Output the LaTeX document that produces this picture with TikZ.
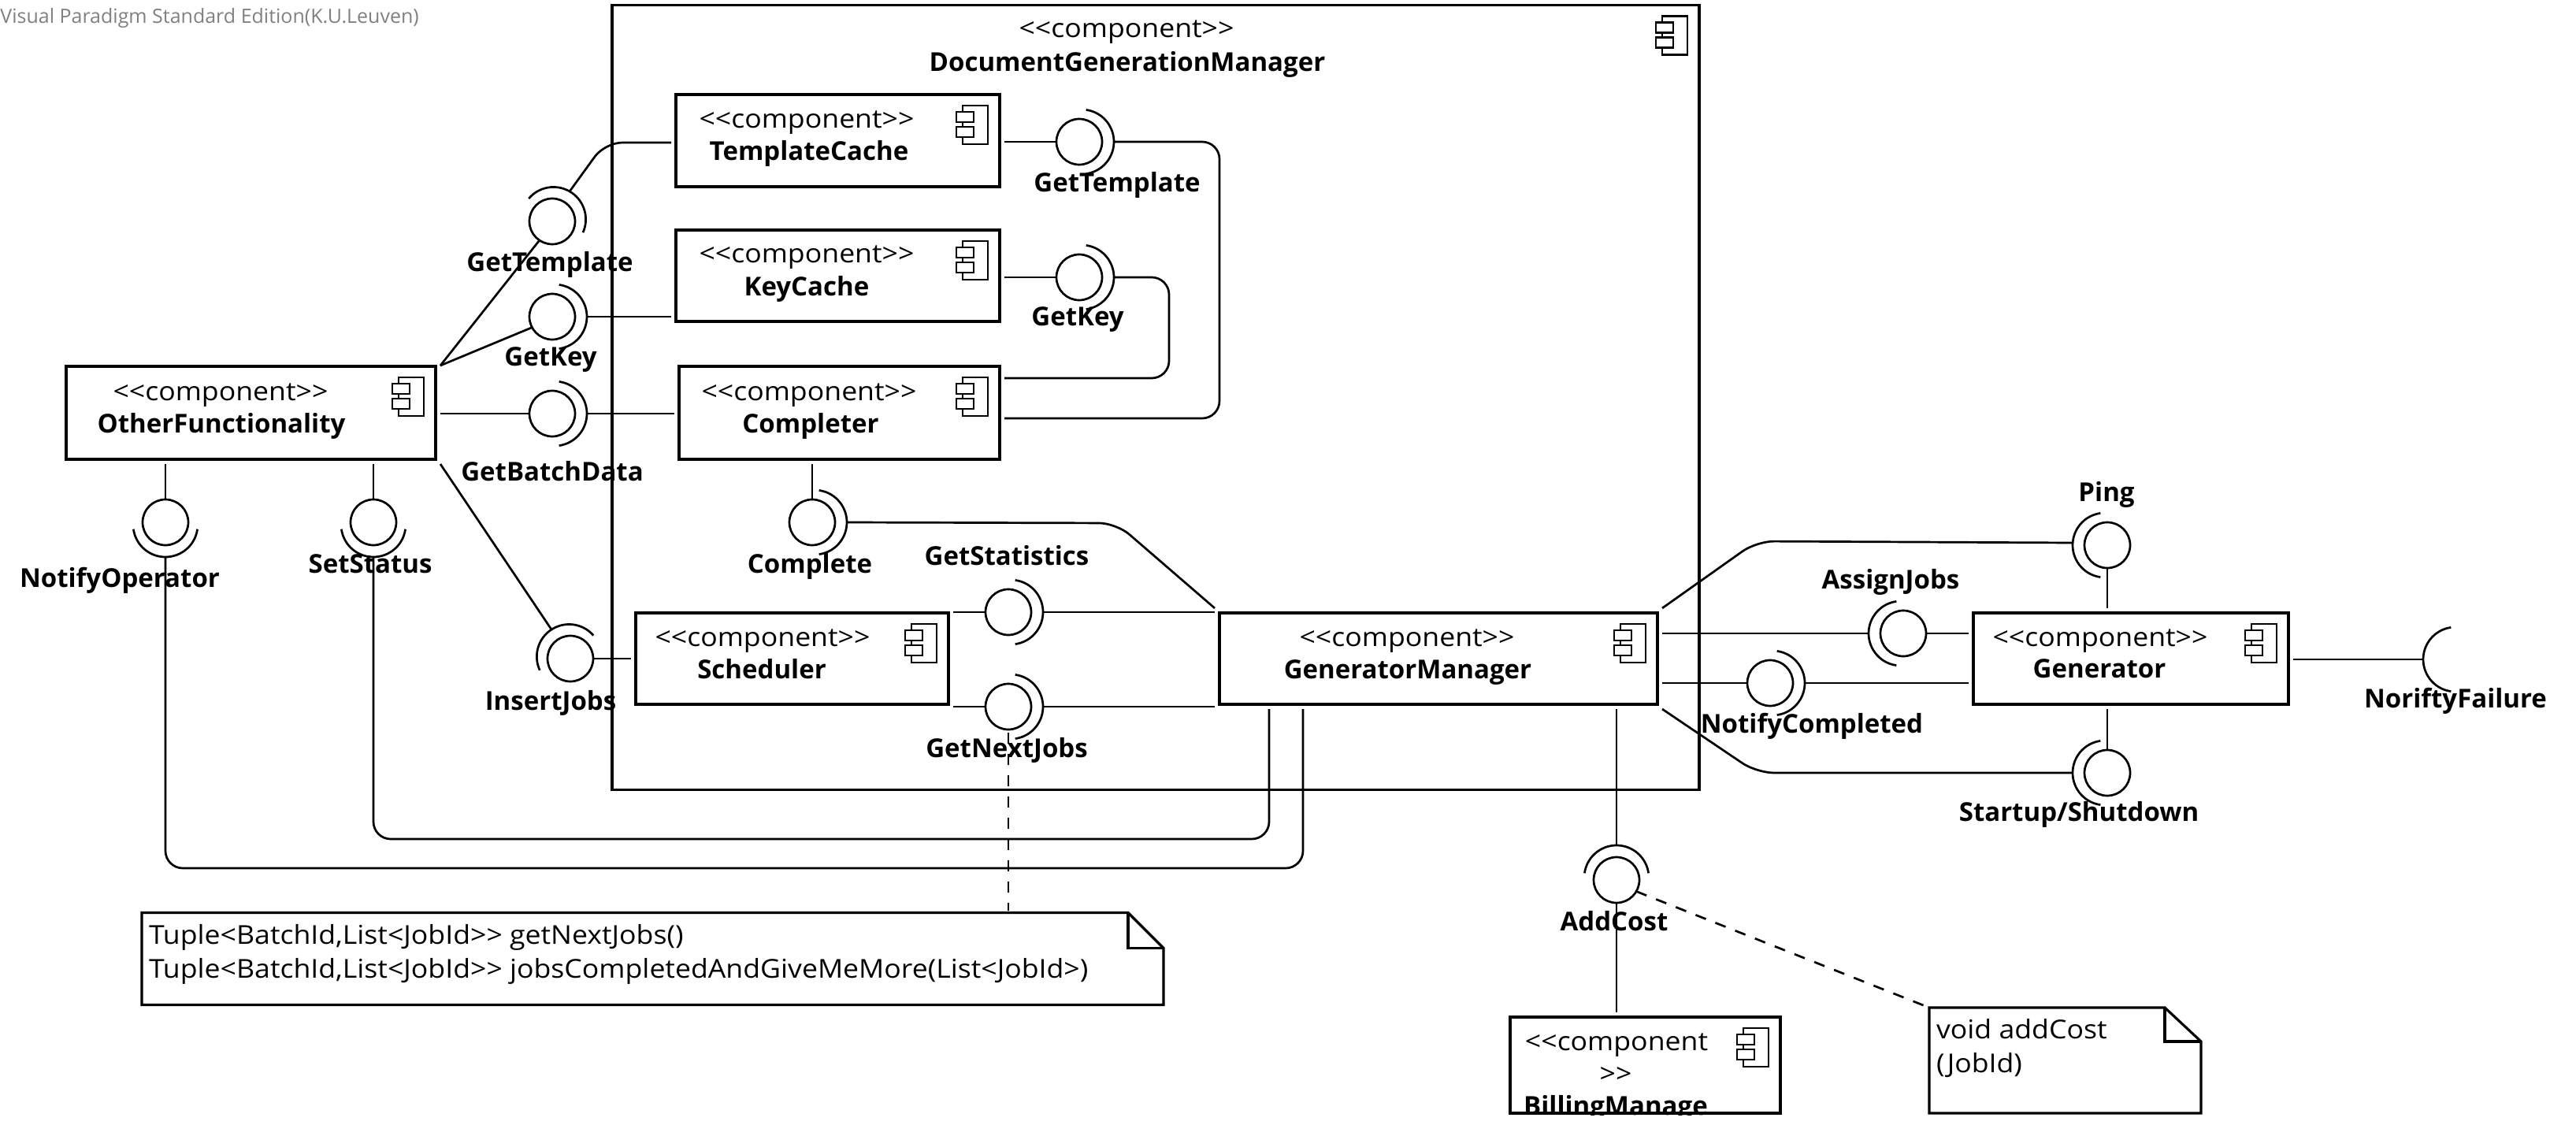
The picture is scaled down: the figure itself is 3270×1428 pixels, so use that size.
\documentclass[tikz,border=0pt]{standalone}
\usepackage{fontspec}
\setmainfont{Open Sans}[Ligatures=TeXOff]
\newfontfamily\regf{Open Sans}[Ligatures=TeXOff,FakeStretch=1.08]
\usetikzlibrary{calc}
\newcommand{\txtsize}{\fontsize{16.5pt}{20pt}\selectfont}
\tikzset{
  boxline/.style={draw=black,line width=1.6pt},
  conn/.style={draw=black,line width=1.35pt},
  bendy/.style={conn,rounded corners=11pt},
  notelink/.style={draw=black,line width=1.35pt,dash pattern=on 7pt off 6.5pt},
  comp/.style={boxline,rectangle,outer sep=3pt,inner sep=0pt},
  ballnode/.style={circle,draw=black,line width=1.35pt,minimum size=29pt,inner sep=0pt,outer sep=0pt},
  socknode/.style={circle,minimum size=41pt,inner sep=0pt,outer sep=0pt},
  lab/.style={inner sep=0pt,outer sep=0pt,font=\txtsize\bfseries,text height=12pt,text depth=3pt},
  ster/.style={inner sep=0pt,outer sep=0pt,font=\txtsize\regf,text height=12pt,text depth=3pt,yshift=-1pt},
  notetxt/.style={inner sep=0pt,outer sep=0pt,font=\txtsize\regf,anchor=west,text height=12pt,text depth=3pt,yshift=-1pt},
}
% box: name x1 y1 x2 y2
\newcommand{\cbox}[5]{%
  \node[comp,minimum width={(#4-#2)*0.5pt},minimum height={(#5-#3)*0.5pt}] (#1) at ({(#2+#4)/2},{(#3+#5)/2}) {};
  \draw[line width=1.3pt] ([shift={(-26.5pt,-10pt)}]#1.north east) rectangle ++(16pt,-24.5pt);
  \draw[line width=1.3pt,fill=white] ([shift={(-30.5pt,-14pt)}]#1.north east) rectangle ++(11pt,-6.5pt);
  \draw[line width=1.3pt,fill=white] ([shift={(-30.5pt,-23.5pt)}]#1.north east) rectangle ++(11pt,-6.5pt);
}
% socket: name position dir
\newcommand{\sock}[3]{%
  \node[socknode] (#1) at (#2) {};
  \pgfmathsetmacro{\sa}{#3+82}\pgfmathsetmacro{\sb}{#3-82}
  \draw[conn] ([shift={(\sa:20.5pt)}]#1.center) arc[start angle=\sa,end angle=\sb,radius=20.5pt];
}
% interface with socket: name x y dir
\newcommand{\iface}[4]{%
  \node[ballnode] (#1) at (#2,#3) {};
  \sock{#1S}{[shift={(#4:1.5pt)}]#1.center}{#4}
}
\begin{document}
\begin{tikzpicture}[x=0.5pt,y=-0.5pt]
\useasboundingbox (0,0) rectangle (3270,1428);
\node[inner sep=0pt,anchor=west,text=black!50,font=\fontsize{12.5pt}{14pt}\selectfont] (vp) at (0,23) {Visual Paradigm Standard Edition(K.U.Leuven)};

% boxes
\cbox{dgm}{777}{6.5}{2157}{1002.5}
\cbox{tc}{858}{120}{1269}{237}
\cbox{kc}{858}{292}{1269}{408}
\cbox{co}{862}{465}{1269}{583}
\cbox{of}{84}{465}{553}{583}
\cbox{sc}{807}{778}{1204}{894}
\cbox{gm}{1548}{778}{2104}{894}
\cbox{gen}{2505}{778}{2905}{894}
\cbox{bm}{1917}{1291}{2260}{1413}

% box texts
\node[ster] (t1a) at (1430,37) {<<component>>};
\node[lab] (t1b) at (1431,82) {DocumentGenerationManager};
\node[ster] (t2a) at (1024,152) {<<component>>};
\node[lab] (t2b) at (1027,195) {TemplateCache};
\node[ster] (t3a) at (1024,323) {<<component>>};
\node[lab] (t3b) at (1024,367) {KeyCache};
\node[ster] (t4a) at (1027,497) {<<component>>};
\node[lab] (t4b) at (1029,540) {Completer};
\node[ster] (t5a) at (280,497) {<<component>>};
\node[lab] (t5b) at (281,540) {OtherFunctionality};
\node[ster] (t6a) at (968,809) {<<component>>};
\node[lab] (t6b) at (967,852) {Scheduler};
\node[ster] (t7a) at (1786,809) {<<component>>};
\node[lab] (t7b) at (1787,852) {GeneratorManager};
\node[ster] (t8a) at (2666,809) {<<component>>};
\node[lab] (t8b) at (2665,851) {Generator};
\node[ster] (t9a) at (2052,1322) {<<component};
\node[ster] (t9b) at (2051,1363) {>>};
\begin{scope}
\clip (1917,1291) rectangle (2260,1415);
\node[lab] (t9c) at (2051,1406) {BillingManage};
\end{scope}

% interfaces
\iface{gtl}{701}{281}{58}
\iface{gkl}{701}{402}{0}
\iface{gbd}{701}{525}{0}
\iface{nop}{210}{663}{-90}
\iface{sst}{474}{663}{-90}
\iface{ij}{724}{836}{123}
\iface{cmp}{1031}{663}{0}
\iface{gti}{1370}{180}{0}
\iface{gki}{1370}{352}{0}
\iface{gs}{1280}{777}{0}
\iface{gnj}{1280}{897}{0}
\iface{png}{2675}{692}{180}
\iface{aj}{2416}{804}{180}
\iface{nc}{2247}{867}{0}
\iface{st}{2675}{981}{180}
\iface{ac}{2052}{1117}{90}
\sock{nfS}{3117,837}{180}

% free bend points
\coordinate (ofTR) at (559,464);
\coordinate (v1) at (768,181);
\coordinate (v2) at (1417,664);
\coordinate (v3) at (2230,687);
\coordinate (v4) at (2230,981);
\coordinate (c1) at (1654,1102);
\coordinate (c2) at (1611,1065);
\coordinate (c3) at (1484,480);
\coordinate (c4) at (1548,180);
\coordinate (c5) at (1548,531);

% connectors, left
\draw[conn] (ofTR) -- (gtl.236);
\draw[bendy] (gtlS.60) -- (v1) -- (v1 -| tc.west);
\draw[conn] (ofTR) -- (gkl.208);
\draw[conn] (gklS.east) -- (gklS.east -| kc.west);
\draw[conn] (of.east |- gbd) -- (gbd.west);
\draw[conn] (gbdS.east) -- (gbdS.east -| co.west);
\draw[conn] (of.south -| nop) -- (nop.north);
\draw[bendy] (nopS.south) |- (c1) -- (c1 |- gm.south);
\draw[conn] (of.south -| sst) -- (sst.north);
\draw[bendy] (sstS.south) |- (c2) -- (c2 |- gm.south);
\draw[conn] (of.south east) -- (ijS.123);
\draw[conn] (ij.east) -- (ij.east -| sc.west);
% inner
\draw[conn] (gti.west -| tc.east) -- (gti.west);
\draw[bendy] (gtiS.east) -- (c4) -- (c5) -- (c5 -| co.east);
\draw[conn] (gki.west -| kc.east) -- (gki.west);
\draw[bendy] (gkiS.east) -| (c3) -- (c3 -| co.east);
\draw[conn] (co.south -| cmp) -- (cmp.north);
\draw[bendy] (cmpS.east) -- (v2) -- (gm.north west);
\draw[conn] (gs.west -| sc.east) -- (gs.west);
\draw[conn] (gsS.east) -- (gsS.east -| gm.west);
\draw[conn] (gnj.west -| sc.east) -- (gnj.west);
\draw[conn] (gnjS.east) -- (gnjS.east -| gm.west);
% right
\draw[bendy] (gm.north east) -- (v3) -- ([yshift=1.5pt]pngS.west);
\draw[conn] (png.south) -- (png.south |- gen.north);
\draw[conn] (ajS.west -| gm.east) -- (ajS.west);
\draw[conn] (aj.east) -- (aj.east -| gen.west);
\draw[conn] (nc.west -| gm.east) -- (nc.west);
\draw[conn] (ncS.east) -- (ncS.east -| gen.west);
\draw[bendy] (gm.south east) -- (v4) -- (stS.west);
\draw[conn] (st.north |- gen.south) -- (st.north);
\draw[conn] (gen.east |- nfS) -- (nfS.west);
\draw[conn] (ac |- gm.south) -- (acS.north);
\draw[conn] (ac.south) -- (ac.south |- bm.north);

% notes
\node[minimum width=648.5pt,minimum height=58.5pt,inner sep=0pt,outer sep=0pt] (n1) at (828.5,1217) {};
\draw[boxline] (n1.north west) -- ([xshift=-22.5pt]n1.north east) -- ([yshift=-22.5pt]n1.north east) -- (n1.south east) -- (n1.south west) -- cycle;
\draw[boxline] ([xshift=-22.5pt]n1.north east) -- ([xshift=-22.5pt,yshift=-22.5pt]n1.north east) -- ([yshift=-22.5pt]n1.north east);
\node[notetxt] (n1a) at (189,1187) {Tuple<BatchId,List<JobId>> getNextJobs()};
\node[notetxt] (n1b) at (189,1230) {Tuple<BatchId,List<JobId>> jobsCompletedAndGiveMeMore(List<JobId>)};
\node[minimum width=172.5pt,minimum height=67pt,inner sep=0pt,outer sep=0pt] (n2) at (2621.5,1346) {};
\draw[boxline] (n2.north west) -- ([xshift=-23pt]n2.north east) -- ([yshift=-21.5pt]n2.north east) -- (n2.south east) -- (n2.south west) -- cycle;
\draw[boxline] ([xshift=-23pt]n2.north east) -- ([xshift=-23pt,yshift=-21.5pt]n2.north east) -- ([yshift=-21.5pt]n2.north east);
\node[notetxt] (n2a) at (2458,1307) {void addCost};
\node[notetxt] (n2b) at (2458,1350) {(JobId)};
\draw[notelink] ([yshift=-2pt]gnj.south) -- ([yshift=1.5pt]gnj.south |- n1.north);
\draw[notelink] (ac.-30) -- (n2.north west);

% labels
\node[lab] (l1) at (698,336) {GetTemplate};
\node[lab] (l2) at (699,456) {GetKey};
\node[lab] (l3) at (701,601) {GetBatchData};
\node[lab] (l4) at (152,736) {NotifyOperator};
\node[lab] (l5) at (470,718) {SetStatus};
\node[lab] (l6) at (699,892) {InsertJobs};
\node[lab] (l7) at (1028,718) {Complete};
\node[lab] (l8) at (1418,235) {GetTemplate};
\node[lab] (l9) at (1368,405) {GetKey};
\node[lab] (l10) at (1278,708) {GetStatistics};
\node[lab] (l11) at (1278,952) {GetNextJobs};
\node[lab] (l12) at (2674,627) {Ping};
\node[lab] (l13) at (2400,738) {AssignJobs};
\node[lab] (l14) at (2300,921) {NotifyCompleted};
\node[lab] (l15) at (2639,1033) {Startup/Shutdown};
\node[lab] (l16) at (3117,889) {NoriftyFailure};
\node[lab] (l17) at (2049,1172) {AddCost};
\end{tikzpicture}
\end{document}
